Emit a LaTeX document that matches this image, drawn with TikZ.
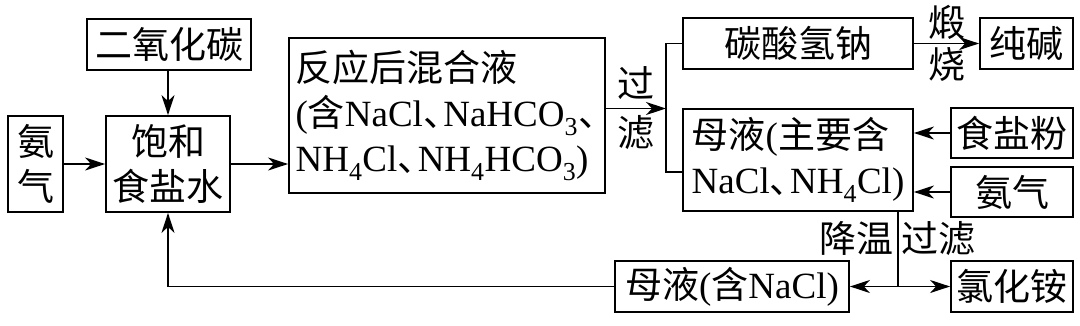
\documentclass[tikz,border=0pt]{standalone}
\usepackage{fontspec}
\setmainfont{Liberation Serif}
\newfontfamily\cjk{Noto Sans CJK SC}
\usetikzlibrary{arrows.meta}
\newcommand{\lat}[1]{{\rmfamily #1}}
\newcommand{\dun}{、\kern-.45em}

\begin{document}
\begin{tikzpicture}[x=1pt, y=-1pt,
  box/.style={draw, line width=1.8pt, inner sep=0pt, align=center, font=\cjk\fontsize{37}{45}\selectfont},
  lbl/.style={inner sep=0pt, font=\cjk\fontsize{37}{45}\selectfont},
  pipe/.style={line width=1.8pt},
  flow/.style={pipe, -{Stealth[length=20pt, width=13pt, inset=6pt]}}]
  \useasboundingbox (0,0) rectangle (1080,325);
  % raw materials and brine
  \node[box, minimum width=164pt, minimum height=51pt] (co2) at (169,44.5) {二氧化碳};
  \node[box, minimum width=55pt, minimum height=96pt] (nhA) at (35.5,164) {氨\\气};
  \node[box, minimum width=124pt, minimum height=96pt] (brine) at (168,164) {饱和\\食盐水};
  \node[box, align=left, minimum width=316pt, minimum height=155pt] (mix) at (447,115.5)
    {反应后混合液\\\lat{(}含\lat{NaCl}\dun\lat{NaHCO\textsubscript{3}}\dun\\\lat{NH\textsubscript{4}Cl}\dun\lat{NH\textsubscript{4}HCO\textsubscript{3})}};
  % products
  \node[box, minimum width=230pt, minimum height=51pt] (bicarb) at (798,43.5) {碳酸氢钠};
  \node[box, minimum width=93pt, minimum height=51pt] (soda) at (1026.5,43.5) {纯碱};
  \node[box, align=left, minimum width=230pt, minimum height=102pt] (mlA) at (798,160)
    {母液\lat{(}主要含\\\lat{NaCl}\dun\lat{NH\textsubscript{4}Cl)}};
  \node[box, minimum width=122pt, minimum height=50pt] (salt) at (1012,133) {食盐粉};
  \node[box, minimum width=122pt, minimum height=50pt] (nhB) at (1012,192) {氨气};
  \node[box, minimum width=234pt, minimum height=51pt] (mlB) at (732,286.5) {母液\lat{(}含\lat{NaCl)}};
  \node[box, minimum width=122pt, minimum height=51pt] (nh4cl) at (1012,286.5) {氯化铵};
  \coordinate (fork) at (666,108.5);
  \coordinate (forkT) at (666,43.5);
  \coordinate (forkB) at (666,172);
  \coordinate (junc) at (898,286.5);
  % connectors
  \draw[flow] (nhA) -- (brine);
  \draw[flow] (co2.south -| brine) -- (brine.north);
  \draw[flow] (brine) -- (mix.west |- brine);
  \draw[flow] (fork -| mix.east) -- node[lbl, above=8pt] {过} node[lbl, below=6pt] {滤} (fork);
  \draw[pipe] (bicarb) -- (forkT) -- (forkB) -- (forkB -| mlA.west);
  \draw[flow] (bicarb) -- node[lbl, above=3pt] {煅} node[lbl, below=3pt] {烧} (soda);
  \draw[flow] (salt) -- (salt -| mlA.east);
  \draw[flow] (nhB) -- (nhB -| mlA.east);
  \draw[pipe] (mlA.south -| junc) -- node[lbl, pos=0.36, left=4pt] {降温} node[lbl, pos=0.36, right=3pt] {过滤} (junc);
  \draw[flow] (junc) -- (mlB);
  \draw[flow] (junc) -- (nh4cl);
  \draw[flow] (mlB) -| (brine);
\end{tikzpicture}
\end{document}
